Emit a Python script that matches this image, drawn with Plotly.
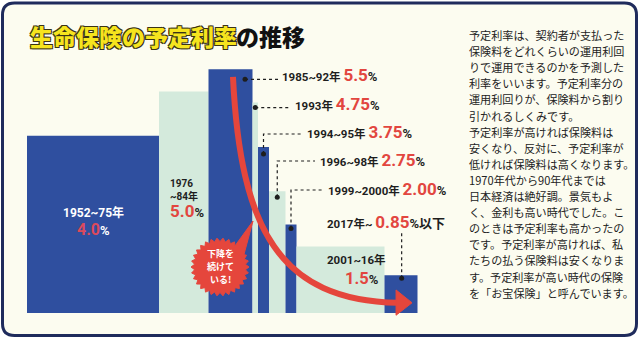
import numpy as np
import plotly.graph_objects as go

# ---------------- data ----------------
period_start = [1952, 1976, 1985, 1993, 1994, 1996, 1999, 2001, 2017]
period_end = [1976, 1985, 1993, 1994, 1996, 1999, 2001, 2017, 2023]  # end year (exclusive)
period_labels = ["1952~75年", "1976~84年", "1985~92年", "1993年", "1994~95年",
                 "1996~98年", "1999~2000年", "2001~16年", "2017年~"]
rates = [4.0, 5.0, 5.5, 4.75, 3.75, 2.75, 2.00, 1.5, 0.85]
rate_labels = ["4.0", "5.0", "5.5", "4.75", "3.75", "2.75", "2.00", "1.5", "0.85"]
rate_suffix = ["%", "%", "%", "%", "%", "%", "%", "%", "%以下"]

title_main = "生命保険の予定利率"
title_rest = "の推移"
badge_lines = ["下降を", "続けて", "いる!"]
body_lines = [
    "予定利率は、契約者が支払った",
    "保険料をどれくらいの運用利回",
    "りで運用できるのかを予測した",
    "利率をいいます。予定利率分の",
    "運用利回りが、保険料から割り",
    "引かれるしくみです。",
    "予定利率が高ければ保険料は",
    "安くなり、反対に、予定利率が",
    "低ければ保険料は高くなります。",
    "1970年代から90年代までは",
    "日本経済は絶好調。景気もよ",
    "く、金利も高い時代でした。こ",
    "のときは予定利率も高かったの",
    "です。予定利率が高ければ、私",
    "たちの払う保険料は安くなりま",
    "す。予定利率が高い時代の保険",
    "を「お宝保険」と呼んでいます。",
]

# ---------------- layout / style ----------------
W, H = 640, 340
X0_PX, PX_PER_YEAR = 27.0, 5.5
Y0_PX, PX_PER_PCT = 313.0, 44.3
DARK, LIGHT = "#2f4f9f", "#d4eadc"
RED, RED_ON_BLUE = "#e2463f", "#dc4a5c"
INK = "#1e1e1e"
CREAM = "#fcfcf0"
NAVY = "#1f2b5c"
NUMFONT = "Roboto, Noto Sans CJK JP"
JPFONT = "Noto Sans CJK JP"


def dx(px):  # pixel -> year
    return period_start[0] + (px - X0_PX) / PX_PER_YEAR


def dy(py):  # pixel -> rate
    return (Y0_PX - py) / PX_PER_PCT


def xp(px):
    return px / W


def yp(py):
    return 1 - py / H


def to_py(v):
    return Y0_PX - v * PX_PER_PCT


widths = [e - s for s, e in zip(period_start, period_end)]
colors = [DARK if i % 2 == 0 else LIGHT for i in range(len(rates))]

fig = go.Figure()
fig.add_trace(go.Bar(x=period_start, y=rates, width=widths, offset=0,
                     marker=dict(color=colors, line=dict(width=0)),
                     hoverinfo="skip", showlegend=False))

shapes = []
annotations = []

# frame
r = 12
x1, y1, x2, y2 = 2.5, 3.0, 636.5, 335.5
pts = [
    f"M {xp(x1 + r)},{yp(y1)}", f"L {xp(x2 - r)},{yp(y1)}",
    f"Q {xp(x2)},{yp(y1)} {xp(x2)},{yp(y1 + r)}", f"L {xp(x2)},{yp(y2 - r)}",
    f"Q {xp(x2)},{yp(y2)} {xp(x2 - r)},{yp(y2)}", f"L {xp(x1 + r)},{yp(y2)}",
    f"Q {xp(x1)},{yp(y2)} {xp(x1)},{yp(y2 - r)}", f"L {xp(x1)},{yp(y1 + r)}",
    f"Q {xp(x1)},{yp(y1)} {xp(x1 + r)},{yp(y1)} Z",
]
shapes.append(dict(type="path", xref="paper", yref="paper", path=" ".join(pts),
                   fillcolor=CREAM, line=dict(color=NAVY, width=3), layer="below"))

# title (yellow outlined part + plain black part)
annotations.append(dict(
    x=xp(28), y=yp(36), xref="paper", yref="paper", xanchor="left", yanchor="middle",
    showarrow=False, text=title_main,
    font=dict(family=JPFONT, size=23, color="#f6e41e", weight=900,
              shadow="1px 1px 0 #3a3316, -1px -1px 0 #3a3316, 1px -1px 0 #3a3316, -1px 1px 0 #3a3316")))
annotations.append(dict(
    x=xp(234), y=yp(36), xref="paper", yref="paper", xanchor="left", yanchor="middle",
    showarrow=False, text=title_rest,
    font=dict(family=JPFONT, size=23, color="#111111", weight=900)))

# left labels (inside bars)
c0 = (period_start[0] + period_end[0]) / 2
annotations.append(dict(x=c0, y=dy(212), xref="x", yref="y", showarrow=False,
                        text=f"<b>{period_labels[0]}</b>",
                        font=dict(family=NUMFONT, size=12, color="white")))
annotations.append(dict(x=c0, y=dy(229), xref="x", yref="y", showarrow=False,
                        text=f'<b><span style="color:{RED_ON_BLUE};font-size:16px">{rate_labels[0]}</span>'
                             f'<span style="font-size:13px">{rate_suffix[0]}</span></b>',
                        font=dict(family=NUMFONT, size=13, color="white")))
p1a, p1b = period_labels[1][:4], period_labels[1][4:]
annotations.append(dict(x=xp(168), y=yp(190), xref="paper", yref="paper", xanchor="left",
                        yanchor="middle", align="left", showarrow=False,
                        text=f"<b>{p1a}<br>{p1b}</b>",
                        font=dict(family=NUMFONT, size=10, color=INK)))
annotations.append(dict(x=xp(168), y=yp(211), xref="paper", yref="paper", xanchor="left",
                        yanchor="middle", showarrow=False,
                        text=f'<b><span style="color:{RED};font-size:17px">{rate_labels[1]}</span>'
                             f'<span style="font-size:13px">{rate_suffix[1]}</span></b>',
                        font=dict(family=NUMFONT, size=13, color=INK)))

# callouts: idx, dot position within bar, dot drop (px), elbow y (px or None), end x, text x, text y
callouts = [
    (2, 0.83, 10, None, 278, 280, 75),
    (3, 0.5, 5, None, 290, 293, 104),
    (4, 0.5, 7, 134, 302, 305, 132),
    (5, 0.5, 6, 161, 315, 318, 160),
    (6, 0.5, 4, 190, 323, 326, 189),
]
dot_x, dot_y = [], []
for idx, frac, drop, elbow, endx, tx, ty in callouts:
    bx = period_start[idx] + widths[idx] * frac
    by = dy(to_py(rates[idx]) + drop)
    dot_x.append(bx)
    dot_y.append(by)
    if elbow is None:
        path = f"M {bx},{by} L {dx(endx)},{by}"
    else:
        path = f"M {bx},{by} L {bx},{dy(elbow)} L {dx(endx)},{dy(elbow)}"
    shapes.append(dict(type="path", xref="x", yref="y", path=path,
                       line=dict(color=INK, width=1.2, dash="dot")))
    annotations.append(dict(
        x=xp(tx), y=yp(ty), xref="paper", yref="paper", xanchor="left", yanchor="middle",
        showarrow=False,
        text=f'<b>{period_labels[idx]} <span style="color:{RED};font-size:17px">{rate_labels[idx]}</span>'
             f'<span style="font-size:13px">{rate_suffix[idx]}</span></b>',
        font=dict(family=NUMFONT, size=11.5, color=INK)))

# 2017 label
i8 = 8
bx8 = period_start[i8] + widths[i8] * 0.52
by8 = dy(to_py(rates[i8]) + 3)
dot_x.append(bx8)
dot_y.append(by8)
shapes.append(dict(type="line", xref="x", yref="y", x0=bx8, x1=bx8, y0=by8, y1=dy(231),
                   line=dict(color=INK, width=1.2, dash="dot")))
annotations.append(dict(
    x=xp(325), y=yp(222), xref="paper", yref="paper", xanchor="left", yanchor="middle",
    showarrow=False,
    text=f'<b>{period_labels[i8]} <span style="color:{RED};font-size:17px">{rate_labels[i8]}</span>'
         f'<span style="font-size:13px">{rate_suffix[i8]}</span></b>',
    font=dict(family=NUMFONT, size=11.5, color=INK)))

# 2001-16 label
annotations.append(dict(x=xp(325), y=yp(259.5), xref="paper", yref="paper", xanchor="left",
                        yanchor="middle", showarrow=False, text=f"<b>{period_labels[7]}</b>",
                        font=dict(family=NUMFONT, size=11.5, color=INK)))
annotations.append(dict(x=xp(381), y=yp(278), xref="paper", yref="paper", xanchor="right",
                        yanchor="middle", showarrow=False,
                        text=f'<b><span style="color:{RED};font-size:16.5px">{rate_labels[7]}</span>'
                             f'<span style="font-size:13px">{rate_suffix[7]}</span></b>',
                        font=dict(family=NUMFONT, size=13, color=INK)))

fig.add_trace(go.Scatter(x=dot_x, y=dot_y, mode="markers",
                         marker=dict(size=5, color=INK), hoverinfo="skip", showlegend=False))

# trend arrow (in data units: year, rate)
arrow_curve = [(1989.45, 5.33), (1990.8, 1.87), (1998.0, 0.29), (2019.4, 0.23)]
(a0, b0), (a1, b1), (a2, b2), (a3, b3) = arrow_curve
shapes.append(dict(type="path", xref="x", yref="y",
                   path=f"M {a0},{b0} C {a1},{b1} {a2},{b2} {a3},{b3}",
                   line=dict(color="#e5463c", width=6)))
shapes.append(dict(type="path", xref="x", yref="y",
                   path=f"M 2019.1,0.52 L 2022.0,0.23 L 2019.1,-0.05 Z",
                   fillcolor="#e5463c", line=dict(color="#e5463c", width=1)))

# badge (starburst)
cx, cy, ro, ri, n = 220, 267, 29, 25.5, 30
ang = np.linspace(0, 2 * np.pi, 2 * n, endpoint=False)
rad = np.where(np.arange(2 * n) % 2 == 0, ro, ri)
bp = [f"{xp(cx + rr * np.cos(a))},{yp(cy + rr * np.sin(a))}" for a, rr in zip(ang, rad)]
shapes.append(dict(type="path", xref="paper", yref="paper",
                   path="M " + " L ".join(bp) + " Z",
                   fillcolor="#e5463c", line=dict(color="#e5463c", width=1)))
shapes.append(dict(type="path", xref="paper", yref="paper",
                   path=f"M {xp(232)},{yp(250)} L {xp(253)},{yp(221)} L {xp(243)},{yp(258)} Z",
                   fillcolor="#e5463c", line=dict(color="#e5463c", width=1)))
for k, line in enumerate(badge_lines):
    annotations.append(dict(x=xp(220), y=yp(253.5 + 13 * k), xref="paper", yref="paper",
                            yanchor="middle", showarrow=False, text=f"<b>{line}</b>",
                            font=dict(family=JPFONT, size=9, color="white")))

# body text
for k, line in enumerate(body_lines):
    annotations.append(dict(x=xp(467), y=yp(35 + 16.1 * k), xref="paper", yref="paper",
                            xanchor="left", yanchor="middle", showarrow=False, text=line,
                            font=dict(family=JPFONT, size=11.1, color="#222222")))

fig.update_layout(
    width=W, height=H, autosize=False,
    margin=dict(l=0, r=0, t=0, b=0, pad=0),
    paper_bgcolor="white", plot_bgcolor="rgba(0,0,0,0)",
    xaxis=dict(range=[dx(0), dx(W)], visible=False, fixedrange=True),
    yaxis=dict(range=[dy(H), dy(0)], visible=False, fixedrange=True),
    shapes=shapes, annotations=annotations, showlegend=False,
)

fig.write_html("out.html")
